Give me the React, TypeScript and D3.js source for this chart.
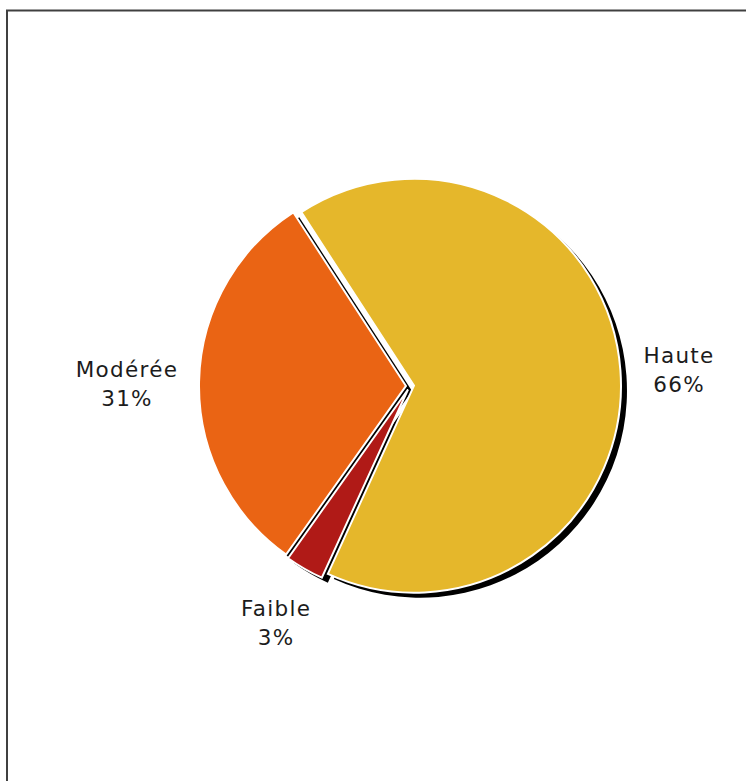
import React from "react";
import * as d3 from "d3";

const categories = ["Haute", "Faible", "Modérée"];
const values = [66, 3, 31];
const colors = ["#E5B72B", "#B01A17", "#EA6414"];

const W = 746;
const H = 781;
const CX = 410;
const CY = 386;
const R = 207;
const EXPLODE = 4;
const START_DEG = -33;
const FONT_SIZE = 21.5;
const LETTER_SP = 1.3;
const FONT_FAMILY = "'DejaVu Sans', Verdana, sans-serif";
const FONT_WEIGHT = 400;
const LINE_H = 29;
const LABEL_GAP = 21;
const TEXT_DROP = 4;

function measure(text: string): number {
  try {
    const c = document.createElement("canvas");
    const ctx = c.getContext("2d");
    if (ctx) {
      ctx.font = `${FONT_WEIGHT} ${FONT_SIZE}px ${FONT_FAMILY}`;
      return ctx.measureText(text).width + LETTER_SP * text.length;
    }
  } catch (e) {}
  return text.length * FONT_SIZE * 0.6;
}

export default function App() {
  const pie = d3
    .pie<number>()
    .sort(null)
    .value((d) => d)
    .startAngle((START_DEG * Math.PI) / 180)
    .endAngle((START_DEG * Math.PI) / 180 + 2 * Math.PI);
  const arcs = pie(values);
  const arcGen = d3.arc<d3.PieArcDatum<number>>().innerRadius(0).outerRadius(R);
  const total = d3.sum(values);

  const items = arcs.map((a, i) => {
    const mid = (a.startAngle + a.endAngle) / 2;
    const dx = Math.sin(mid);
    const dy = -Math.cos(mid);
    const ox = dx * EXPLODE;
    const oy = dy * EXPLODE;
    const pct = `${Math.round((values[i] / total) * 100)}%`;
    const boxW = Math.max(measure(categories[i]), measure(pct));
    const boxH = LINE_H + FONT_SIZE * 0.75;
    const extent = Math.abs(dx) * (boxW / 2) + Math.abs(dy) * (boxH / 2);
    const dist = R + EXPLODE + LABEL_GAP + extent;
    const lx = CX + dx * dist;
    const ly = CY + dy * dist + TEXT_DROP;
    return { a, i, ox, oy, lx, ly, pct };
  });

  return (
    <svg
      width={W}
      height={H}
      style={{ position: "absolute", left: 0, top: 0, background: "#fff" }}
    >
      <rect x={7} y={10.5} width={W + 20} height={H + 20} fill="#fff" stroke="#404040" strokeWidth={2} />
      <g>
        {items.map(({ a, i, ox, oy }) => (
          <path
            key={"s" + i}
            d={arcGen(a) || ""}
            transform={`translate(${CX + ox + 6},${CY + oy + 5})`}
            fill="#000"
          />
        ))}
        {items.map(({ a, i, ox, oy }) => (
          <path
            key={"p" + i}
            d={arcGen(a) || ""}
            transform={`translate(${CX + ox},${CY + oy})`}
            fill={colors[i]}
            stroke="#fff"
            strokeWidth={2}
            strokeLinejoin="miter"
          />
        ))}
      </g>
      <g
        fontFamily={FONT_FAMILY}
        fontWeight={FONT_WEIGHT}
        fontSize={FONT_SIZE}
        letterSpacing={LETTER_SP}
        fill="#1c1c1c"
        textAnchor="middle"
      >
        {items.map(({ i, lx, ly, pct }) => (
          <text key={"t" + i} x={lx} y={ly}>
            <tspan x={lx + LETTER_SP / 2} dy={-7}>{categories[i]}</tspan>
            <tspan x={lx + LETTER_SP / 2} dy={LINE_H}>{pct}</tspan>
          </text>
        ))}
      </g>
    </svg>
  );
}
